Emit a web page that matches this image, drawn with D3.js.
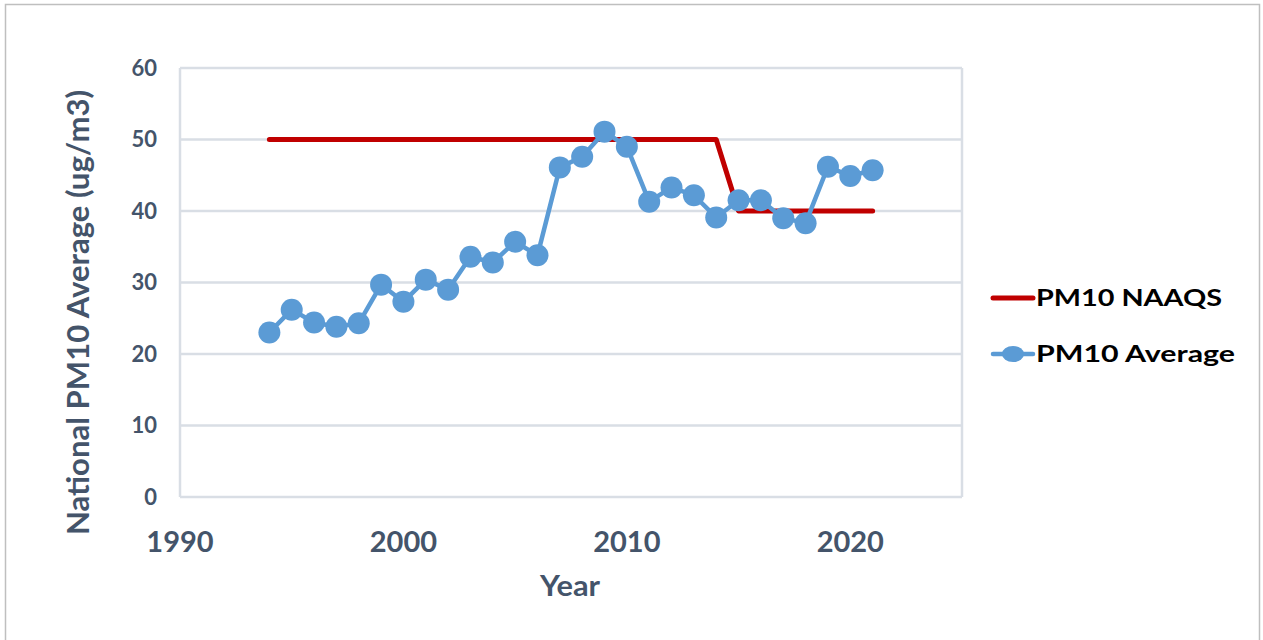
<!DOCTYPE html>
<html>
<head>
<meta charset="utf-8">
<script src="https://cdn.jsdelivr.net/npm/d3@7"></script>
<style>
  html, body { margin: 0; padding: 0; background: #fff; }
  svg { display: block; }
  text { font-family: Lato, "Open Sans", sans-serif; font-weight: 700; }
</style>
</head>
<body>
<svg id="chart" width="1263" height="640"></svg>
<script>
// National PM10 annual averages and the PM10 NAAQS level, 1994-2021
const years = [1994, 1995, 1996, 1997, 1998, 1999, 2000, 2001, 2002, 2003,
               2004, 2005, 2006, 2007, 2008, 2009, 2010, 2011, 2012, 2013,
               2014, 2015, 2016, 2017, 2018, 2019, 2020, 2021];
const pm10Average = [23.0, 26.2, 24.4, 23.8, 24.3, 29.7, 27.3, 30.4, 29.0, 33.6,
                     32.8, 35.7, 33.8, 46.1, 47.6, 51.1, 49.0, 41.3, 43.3, 42.2,
                     39.1, 41.5, 41.5, 39.0, 38.3, 46.2, 44.9, 45.7];
const naaqsYears = [1994, 2014, 2015, 2021];
const naaqsLevel = [50, 50, 40, 40];
const xTicks = [1990, 2000, 2010, 2020];
const yTicks = [0, 10, 20, 30, 40, 50, 60];
const seriesNames = ["PM10 NAAQS", "PM10 Average"];

const svg = d3.select("#chart");
const RED = "#C00000", BLUE = "#5B9BD5", GRID = "#D9DEE5", LABEL = "#44546A";

// chart frame
svg.append("rect")
  .attr("x", 5.5).attr("y", 4.5).attr("width", 1254).attr("height", 650)
  .attr("fill", "#fff").attr("stroke", "#BFBFBF").attr("stroke-width", 1.5);

const x = d3.scaleLinear().domain([1990, 2025]).range([180, 962]);
const y = d3.scaleLinear().domain([0, 60]).range([497, 68]);

// horizontal gridlines
svg.append("g").selectAll("line").data(yTicks).join("line")
  .attr("x1", x(1990)).attr("x2", x(2025))
  .attr("y1", d => y(d)).attr("y2", d => y(d))
  .attr("stroke", GRID).attr("stroke-width", 2.5);

// plot area left/right edges
svg.append("g").selectAll("line").data([1990, 2025]).join("line")
  .attr("x1", d => x(d)).attr("x2", d => x(d))
  .attr("y1", y(0)).attr("y2", y(60))
  .attr("stroke", GRID).attr("stroke-width", 2.5);

// y tick labels
svg.append("g").selectAll("text").data(yTicks).join("text")
  .attr("x", 157).attr("y", d => y(d)).attr("dy", "0.36em")
  .attr("text-anchor", "end").attr("font-size", 22).attr("fill", LABEL)
  .text(d => d);

// x tick labels
svg.append("g").selectAll("text").data(xTicks).join("text")
  .attr("x", d => x(d)).attr("y", 552)
  .attr("text-anchor", "middle").attr("font-size", 29).attr("fill", LABEL)
  .text(d => d);

// axis titles
svg.append("text")
  .attr("x", 570).attr("y", 596).attr("text-anchor", "middle")
  .attr("font-size", 29).attr("fill", LABEL)
  .attr("textLength", 60).attr("lengthAdjust", "spacingAndGlyphs")
  .text("Year");

svg.append("text")
  .attr("transform", `translate(89,${(y(0) + y(60)) / 2 + 30}) rotate(-90)`)
  .attr("text-anchor", "middle")
  .attr("font-size", 30).attr("fill", LABEL)
  .attr("textLength", 445).attr("lengthAdjust", "spacingAndGlyphs")
  .text("National PM10 Average (ug/m3)");

// NAAQS standard line
const naaqs = naaqsYears.map((yr, i) => ({ yr, v: naaqsLevel[i] }));
svg.append("path")
  .datum(naaqs)
  .attr("fill", "none").attr("stroke", RED).attr("stroke-width", 5)
  .attr("stroke-linecap", "round").attr("stroke-linejoin", "round")
  .attr("d", d3.line().x(d => x(d.yr)).y(d => y(d.v)));

// PM10 average line with markers
const avg = years.map((yr, i) => ({ yr, v: pm10Average[i] }));
svg.append("path")
  .datum(avg)
  .attr("fill", "none").attr("stroke", BLUE).attr("stroke-width", 4.5)
  .attr("stroke-linejoin", "round")
  .attr("d", d3.line().x(d => x(d.yr)).y(d => y(d.v)));

svg.append("g").selectAll("circle").data(avg).join("circle")
  .attr("cx", d => x(d.yr)).attr("cy", d => y(d.v)).attr("r", 11)
  .attr("fill", BLUE);

// legend
const legend = svg.append("g");
const legendY = [298, 354];
const legendWidths = [186, 199];
legend.append("line")
  .attr("x1", 993).attr("x2", 1033).attr("y1", legendY[0]).attr("y2", legendY[0])
  .attr("stroke", RED).attr("stroke-width", 5).attr("stroke-linecap", "round");
legend.append("line")
  .attr("x1", 993).attr("x2", 1033).attr("y1", legendY[1]).attr("y2", legendY[1])
  .attr("stroke", BLUE).attr("stroke-width", 4.5).attr("stroke-linecap", "round");
legend.append("ellipse")
  .attr("cx", 1013).attr("cy", legendY[1]).attr("rx", 11).attr("ry", 8).attr("fill", BLUE);
legend.selectAll("text").data(seriesNames).join("text")
  .attr("x", 1036).attr("y", (d, i) => legendY[i]).attr("dy", "0.36em")
  .attr("font-size", 23).attr("fill", "#000")
  .attr("textLength", (d, i) => legendWidths[i]).attr("lengthAdjust", "spacingAndGlyphs")
  .text(d => d);
</script>
</body>
</html>
